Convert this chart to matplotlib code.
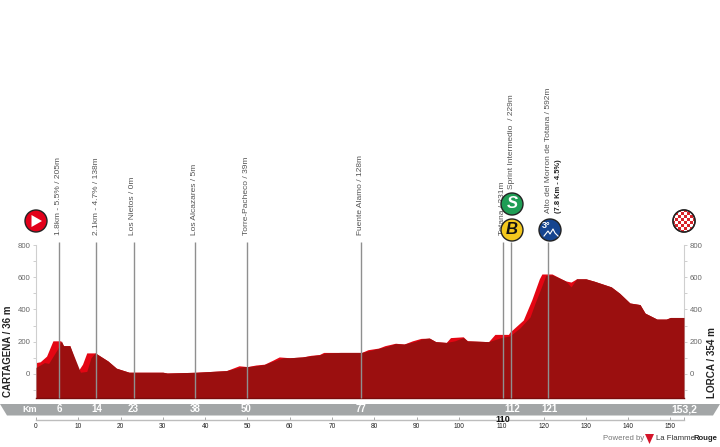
import numpy as np
import matplotlib
matplotlib.use('Agg')
import matplotlib.pyplot as plt
from matplotlib.patches import Circle, Polygon, Rectangle

plt.rcParams['font.family'] = ['Liberation Sans', 'DejaVu Sans']

# profile (km, metres)
top_km = [0, 1, 2.5, 4, 5.8, 6.5, 8, 10, 11, 12, 14, 17, 19, 22, 30, 31, 38, 45, 48, 50,
          52, 54, 56, 57.5, 60, 63, 65, 67, 68, 72, 77, 78.5, 81, 82.5, 85, 87, 89, 91, 93,
          94.5, 97, 98, 101, 102, 107, 108.5, 110, 111.7, 112, 114.4, 115.2, 117.2, 119, 119.6, 122,
          125.2, 126.5, 127.8, 130, 132, 136, 138, 140.4, 142.8, 144, 146.8, 149, 150, 153.2]
top_m = [70, 75, 110, 205, 205, 175, 175, 20, 60, 130, 130, 80, 35, 10, 10, 5, 10, 20, 50, 45,
         55, 60, 85, 105, 100, 105, 115, 120, 133, 133, 133, 150, 160, 175, 190, 185, 205, 220, 222,
         200, 195, 225, 230, 205, 200, 245, 245, 245, 258, 315, 334, 459, 590, 620, 620,
         577, 570, 590, 590, 575, 540, 500, 440, 430, 377, 340, 340, 350, 350]
body_km = [0, 2, 3, 5, 6, 6.5, 8, 10.5, 12, 13, 14, 17, 19, 22, 30, 31, 38, 45, 49, 50,
           52, 54, 56, 58.5, 60, 63, 65, 67, 68.5, 72, 77, 79, 81, 83, 85, 87, 89.5, 91.5, 93,
           94.5, 97, 99, 101, 102, 107, 110, 112, 114.4, 116.8, 118, 119.5, 120.5, 122,
           125.2, 126.5, 127.8, 130, 132, 136, 138, 140.4, 142.8, 144, 146.8, 149, 150, 153.2]
body_m = [40, 70, 65, 150, 205, 175, 175, 10, 15, 100, 130, 80, 35, 10, 10, 5, 10, 20, 45, 45,
          50, 58, 78, 100, 100, 105, 112, 118, 130, 133, 133, 145, 158, 170, 188, 185, 200, 218, 222,
          200, 195, 205, 225, 205, 200, 225, 235, 285, 353, 440, 540, 610, 615,
          577, 540, 590, 590, 575, 540, 500, 440, 430, 377, 340, 340, 350, 350]

marker_km = [5.4, 14.3, 23.2, 37.6, 49.8, 76.8, 110.3, 112.2, 121.1]
marker_names = ['1.8km - 5.5% / 205m', '2.1km - 4.7% / 138m', 'Los Nietos / 0m', 'Los Alcazares / 5m',
                'Torre-Pacheco / 39m', 'Fuente Alamo / 128m', 'Totana / 231m',
                'Sprint Intermedio  / 229m', 'Alto del Morron de Totana / 592m']
band_labels = ['6', '14', '23', '38', '50', '77', '110', '112', '121']
y_ticks = [0, 200, 400, 600, 800]
x_ticks = list(range(0, 151, 10))

W, H = 720, 447
fig = plt.figure(figsize=(7.2, 4.47), dpi=100)

# overlay in pixels for band, badges and side texts
ov = fig.add_axes([0, 0, 1, 1], zorder=3)
ov.set_xlim(0, W)
ov.set_ylim(H, 0)
ov.axis('off')

ax = fig.add_axes([36 / W, 1 - 398 / H, 648 / W, 153 / H], zorder=2)
ax.patch.set_alpha(0)
ax.set_xlim(0, 153.2)
ax.set_ylim(-150, 800)

ax.fill_between(top_km, -150, top_m, color='#e30613', lw=0, zorder=2)
ax.fill_between(body_km, -150, body_m, color='#9b0f0f', lw=0, zorder=3)
ax.plot([0, 153.2], [-150, -150], color='#7a0c0c', lw=1, zorder=4, clip_on=False)

ax.vlines(marker_km, -150, 820, color='#8f8f8f', lw=1, zorder=5, clip_on=False)

# rotated labels, bottom edge in pixels
label_x = [59, 96.5, 133.5, 195, 246.5, 361, 502.5, 512, 549]
label_bottom = [235, 235, 235, 235, 235, 235, 235, 189, 213]
for x, b, name in zip(label_x, label_bottom, marker_names):
    ov.text(x - 0.5, b, name, rotation=90, ha='center', va='bottom', fontsize=6,
            color='#555555', zorder=2)
ov.text(559, 213, '(7.8 Km - 4.5%)', rotation=90, ha='center', va='bottom', fontsize=5.4,
        color='#222222', fontweight='bold', zorder=2)

# axes
ax.spines['top'].set_visible(False)
for s in ['left', 'right']:
    ax.spines[s].set_color('#cfcfcf')
    ax.spines[s].set_linewidth(0.8)
ax.spines['bottom'].set_position(('outward', 16))
ax.spines['bottom'].set_color('#bdbdbd')
ax.spines['bottom'].set_linewidth(1)
ax.set_xticks(x_ticks)
ax.set_xticks([153.2], minor=True)
ax.tick_params(axis='x', which='major', direction='in', length=2.5, width=0.6, color='#999999',
               pad=2, labelsize=4.8, labelcolor='#222222')
ax.tick_params(axis='x', which='minor', direction='in', length=2.5, width=0.6, color='#999999')
ax.set_yticks(y_ticks)
ax.set_yticks([-100, 100, 300, 500, 700], minor=True)
ax.tick_params(axis='y', which='both', left=True, right=True, labelleft=True, labelright=True,
               direction='out', length=2, width=0.5, color='#bbbbbb', pad=2,
               labelsize=5.6, labelcolor='#666666')

# km band
ov.add_patch(Polygon([(0, 404), (720, 404), (713, 415.5), (7, 415.5)], closed=True, fc='#a3a6a7', ec='none'))
ov.text(30, 409.5, 'Km', color='white', fontsize=6.5, fontweight='bold', ha='center', va='center')
for x, lab in zip(label_x, band_labels):
    if lab == '110':
        ov.text(x, 419.5, lab, color='#111111', fontsize=6.5, fontweight='bold', ha='center', va='center', zorder=5)
    else:
        ov.text(x, 409.5, lab, color='white', fontsize=7, fontweight='bold', ha='center', va='center')
ov.text(684, 409, '153,2', color='white', fontsize=7.5, fontweight='bold', ha='center', va='center')

# side names
ov.text(8, 397, 'CARTAGENA / 36 m', rotation=90, ha='center', va='bottom', fontsize=7,
        fontweight='bold', color='#222222')
ov.text(712, 398, 'LORCA / 354 m', rotation=90, ha='center', va='bottom', fontsize=7.1,
        fontweight='bold', color='#222222')


def badge(x, y, col):
    c = Circle((x, y), 11, fc=col, ec='#222222', lw=1, zorder=4)
    ov.add_patch(c)
    return c


# start
badge(36, 221, '#e2001a')
ov.add_patch(Polygon([(31.5, 215), (31.5, 227), (42, 221)], closed=True, fc='white', ec='none', zorder=5))
# sprint, bonus, climb
badge(512, 204, '#1f9d55')
ov.text(512, 204, 'S', color='white', fontsize=12, fontweight='bold', style='italic', ha='center', va='center', zorder=5)
badge(512, 230, '#f4c81e')
ov.text(512, 230, 'B', color='#111111', fontsize=12, fontweight='bold', style='italic', ha='center', va='center', zorder=5)
badge(550, 230, '#15448f')
ov.text(546.5, 226, '3°', color='white', fontsize=6.5, fontweight='bold', ha='center', va='center', zorder=5)
ov.plot([544, 548, 550, 553, 555, 558], [236, 231, 234, 229, 233, 236], color='white', lw=0.8, zorder=5)
# finish
fin = badge(684, 221, 'white')
for i in range(-6, 6):
    for j in range(-6, 6):
        if (i + j) % 2 == 0:
            r = Rectangle((684 + i * 3, 221 + j * 3), 3, 3, fc='#d8232a', ec='none', zorder=5)
            ov.add_patch(r)
            r.set_clip_path(fin)
ov.add_patch(Circle((684, 221), 11, fc='none', ec='#222222', lw=1, zorder=6))

# footer
ov.text(603, 438.5, 'Powered by', color='#777777', fontsize=5.6, ha='left', va='center')
ov.add_patch(Polygon([(645, 434), (654, 434), (649.5, 444)], closed=True, fc='#d5152a', ec='none'))
ov.text(656, 438.5, 'La Flamme', color='#333333', fontsize=5.6, ha='left', va='center')
ov.text(717, 438.5, 'Rouge', color='#222222', fontsize=5.6, fontweight='bold', ha='right', va='center')

fig.savefig('out.png', dpi=100)
